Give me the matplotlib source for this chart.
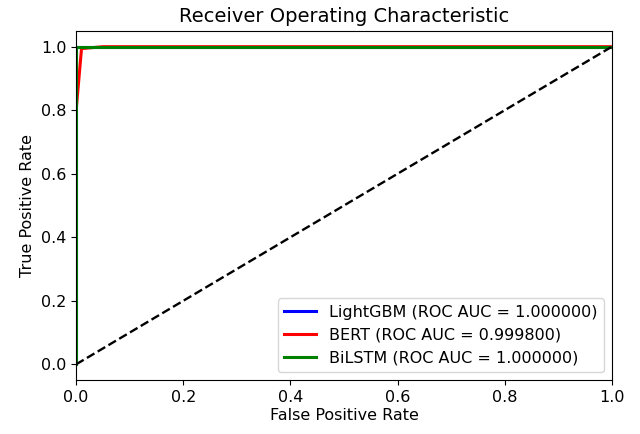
import matplotlib
matplotlib.use("Agg")
import matplotlib.pyplot as plt

lgb_fpr = [0.0, 0.0, 1.0]
lgb_tpr = [0.0, 1.0, 1.0]
bert_fpr = [0.0, 0.0, 0.01, 0.05, 1.0]
bert_tpr = [0.0, 0.8, 0.994, 1.0, 1.0]
bilstm_fpr = [0.0, 0.0, 1.0]
bilstm_tpr = [0.0, 1.0, 1.0]
labels = ["LightGBM (ROC AUC = 1.000000)",
          "BERT (ROC AUC = 0.999800)",
          "BiLSTM (ROC AUC = 1.000000)"]

fig = plt.figure(figsize=(6.4, 4.34), dpi=100)
ax = fig.add_axes([0.119, 0.124, 0.837, 0.805])
ax.plot(lgb_fpr, lgb_tpr, color="blue", lw=2.2, label=labels[0])
ax.plot(bert_fpr, bert_tpr, color="red", lw=2.2, label=labels[1])
ax.plot(bilstm_fpr, bilstm_tpr, color="green", lw=2.2, label=labels[2])
ax.plot([0, 1], [0, 1], "k--", lw=1.7)
ax.set_xlim(0, 1)
ax.set_ylim(-0.05, 1.05)
ax.set_xlabel("False Positive Rate", fontsize=11.5, labelpad=2)
ax.set_ylabel("True Positive Rate", fontsize=11.5)
ax.set_title("Receiver Operating Characteristic", fontsize=14)
ax.tick_params(labelsize=11.5)
ax.legend(loc="lower right", fontsize=11.5)
fig.savefig("out.png", dpi=100)
